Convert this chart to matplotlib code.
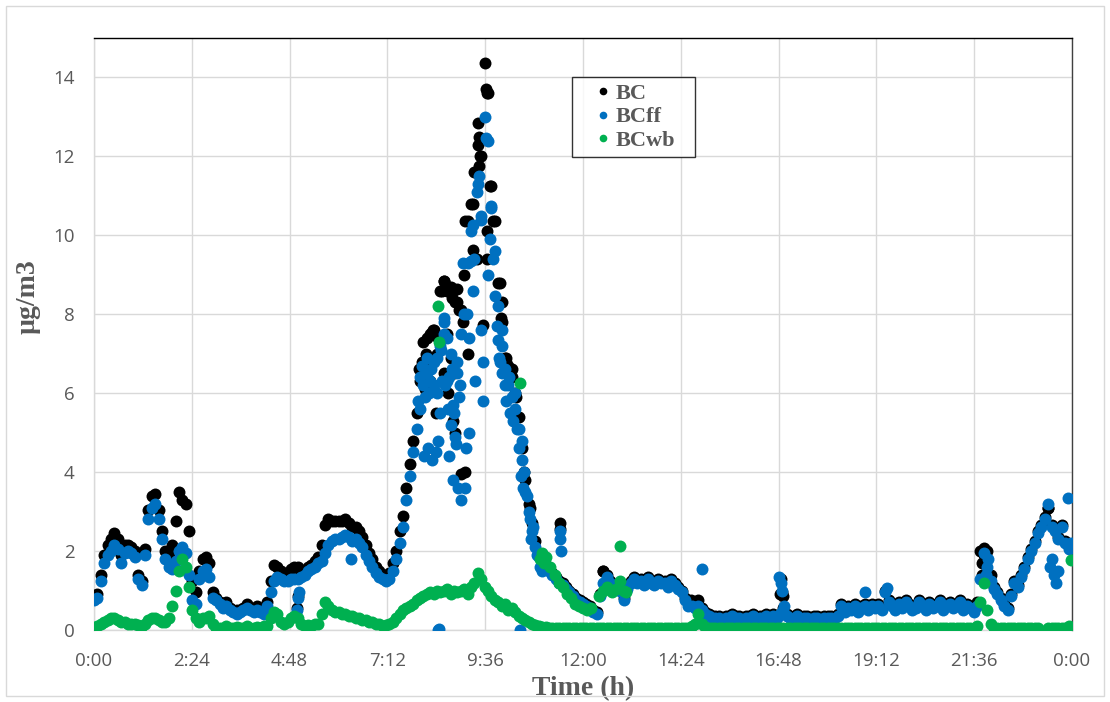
import numpy as np
import matplotlib
matplotlib.use('Agg')
import matplotlib.pyplot as plt
from matplotlib.lines import Line2D
from matplotlib.patches import Rectangle

# 5-minute samples, one row per hour (values in ug/m3)
bc = [
    0.8, 0.9, 1.4, 1.9, 2.15, 2.3, 2.45, 2.3, 1.9, 2.15, 2.15, 2.1,
    2.0, 1.4, 1.25, 2.05, 3.05, 3.4, 3.45, 3.05, 2.5, 2.0, 1.9, 2.15,
    2.75, 3.5, 3.3, 3.2, 2.5, 1.25, 0.95, 1.5, 1.8, 1.85, 1.7, 0.95,
    0.8, 0.7, 0.6, 0.7, 0.55, 0.5, 0.5, 0.5, 0.55, 0.65, 0.55, 0.5,
    0.6, 0.5, 0.5, 0.7, 1.25, 1.65, 1.6, 1.5, 1.4, 1.45, 1.55, 1.6,
    1.6, 1.5, 1.5, 1.6, 1.65, 1.75, 1.85, 2.15, 2.65, 2.8, 2.75, 2.75,
    2.75, 2.75, 2.8, 2.7, 2.6, 2.6, 2.5, 2.35, 2.15, 1.95, 1.8, 1.6,
    1.5, 1.4, 1.35, 1.45, 1.7, 2.0, 2.5, 2.9, 3.6, 4.2, 4.8, 5.5,
    6.3, 6.7, 7.4, 7.5, 7.6, 7.0, 8.6, 8.85, 7.5, 8.7, 6.5, 8.3,
    8.1, 9.0, 10.35, 10.8, 11.6, 12.85, 12.0, 14.37, 13.6, 11.25, 10.35, 8.8,
    7.8, 6.9, 6.7, 6.4, 6.0, 5.4, 4.6, 3.8, 3.2, 2.7, 2.25, 1.95,
    1.8, 1.65, 1.55, 1.45, 1.35, 1.25, 1.2, 1.1, 1.0, 0.9, 0.8, 0.75,
    0.7, 0.65, 0.6, 0.5, 0.45, 0.9, 1.5, 1.4, 1.25, 1.1, 1.15, 1.05,
    0.8, 1.1, 1.25, 1.35, 1.25, 1.3, 1.2, 1.35, 1.25, 1.2, 1.3, 1.25,
    1.25, 1.15, 1.3, 1.2, 1.1, 1.0, 0.8, 0.7, 0.7, 0.7, 0.75, 0.55,
    0.45, 0.4, 0.35, 0.35, 0.35, 0.3, 0.35, 0.35, 0.4, 0.35, 0.35, 0.3,
    0.35, 0.35, 0.4, 0.35, 0.35, 0.35, 0.4, 0.35, 0.4, 0.35, 0.9, 0.55,
    0.4, 0.35, 0.35, 0.4, 0.35, 0.35, 0.35, 0.3, 0.35, 0.35, 0.3, 0.35,
    0.35, 0.35, 0.33, 0.4, 0.65, 0.5, 0.6, 0.55, 0.65, 0.5, 0.6, 0.65,
    0.55, 0.65, 0.6, 0.65, 0.55, 1.0, 0.75, 0.65, 0.55, 0.7, 0.6, 0.75,
    0.65, 0.55, 0.6, 0.75, 0.65, 0.55, 0.7, 0.6, 0.65, 0.75, 0.55, 0.65,
    0.7, 0.6, 0.65, 0.75, 0.55, 0.65, 0.6, 0.5, 0.7, 2.0, 2.08, 2.0,
    1.4, 1.1, 0.95, 0.8, 0.65, 0.55, 0.9, 1.25, 1.15, 1.4, 1.6, 1.85,
    2.05, 2.25, 2.5, 2.65, 2.85, 3.1, 2.65, 2.55, 2.35, 2.65, 2.25, 2.1,
]
bcff = [
    0.75, 0.8, 1.25, 1.7, 1.9, 2.0, 2.15, 2.05, 1.7, 1.95, 2.0, 1.95,
    1.85, 1.3, 1.15, 1.9, 2.8, 3.1, 3.2, 2.8, 2.3, 1.8, 1.6, 1.55,
    1.75, 2.0, 2.1, 1.95, 1.4, 0.75, 0.65, 1.3, 1.5, 1.55, 1.35, 0.8,
    0.75, 0.65, 0.55, 0.6, 0.5, 0.45, 0.4, 0.45, 0.5, 0.55, 0.5, 0.45,
    0.5, 0.45, 0.4, 0.6, 0.95, 1.25, 1.35, 1.3, 1.25, 1.25, 1.3, 1.3,
    1.3, 1.35, 1.4, 1.5, 1.55, 1.6, 1.7, 1.75, 1.95, 2.15, 2.25, 2.3,
    2.3, 2.35, 2.4, 2.35, 2.25, 2.3, 2.2, 2.1, 1.9, 1.75, 1.6, 1.45,
    1.35, 1.3, 1.25, 1.3, 1.5, 1.8, 2.2, 2.6, 3.3, 3.9, 4.5, 5.1,
    5.6, 6.2, 6.5, 6.3, 6.8, 6.0, 7.2, 7.5, 6.3, 7.0, 5.5, 6.5,
    7.5, 8.0, 9.3, 10.1, 9.4, 11.3, 10.5, 13.0, 12.4, 10.7, 9.6, 8.2,
    7.2, 6.6, 6.2, 5.9, 5.6, 5.1, 4.3, 3.5, 3.0, 2.5, 2.1, 1.85,
    1.75, 1.6, 1.5, 1.4, 1.3, 1.2, 1.15, 1.05, 0.95, 0.85, 0.75, 0.7,
    0.65, 0.6, 0.55, 0.45, 0.4, 0.85, 1.2, 1.35, 1.2, 1.05, 1.1, 1.0,
    0.75, 1.05, 1.2, 1.3, 1.2, 1.25, 1.15, 1.3, 1.2, 1.15, 1.25, 1.2,
    1.2, 1.1, 1.25, 1.15, 1.05, 0.95, 0.75, 0.6, 0.6, 0.55, 0.6, 0.5,
    0.4, 0.35, 0.3, 0.3, 0.3, 0.25, 0.3, 0.3, 0.35, 0.3, 0.3, 0.25,
    0.3, 0.3, 0.35, 0.3, 0.3, 0.3, 0.35, 0.3, 0.35, 0.3, 0.4, 0.5,
    0.35, 0.3, 0.3, 0.35, 0.3, 0.3, 0.3, 0.25, 0.3, 0.3, 0.25, 0.3,
    0.3, 0.3, 0.28, 0.35, 0.6, 0.45, 0.55, 0.5, 0.6, 0.45, 0.55, 0.6,
    0.5, 0.6, 0.55, 0.6, 0.5, 0.95, 0.7, 0.6, 0.5, 0.65, 0.55, 0.7,
    0.6, 0.5, 0.55, 0.7, 0.6, 0.5, 0.65, 0.55, 0.6, 0.7, 0.5, 0.6,
    0.65, 0.55, 0.6, 0.7, 0.5, 0.6, 0.55, 0.45, 0.6, 1.3, 1.95, 1.6,
    1.25, 1.05, 0.9, 0.75, 0.6, 0.5, 0.85, 1.2, 1.1, 1.35, 1.55, 1.8,
    2.0, 2.2, 2.45, 2.6, 2.8, 3.2, 2.6, 2.5, 2.3, 2.6, 2.2, 2.05,
]
bcwb = [
    0.05, 0.1, 0.15, 0.2, 0.25, 0.3, 0.3, 0.25, 0.2, 0.2, 0.15, 0.15,
    0.15, 0.12, 0.1, 0.15, 0.25, 0.3, 0.3, 0.25, 0.2, 0.2, 0.3, 0.6,
    1.0, 1.5, 1.8, 1.6, 1.1, 0.5, 0.3, 0.2, 0.3, 0.3, 0.35, 0.15,
    0.05, 0.05, 0.05, 0.1, 0.05, 0.05, 0.08, 0.05, 0.05, 0.1, 0.05, 0.05,
    0.08, 0.05, 0.1, 0.1, 0.3, 0.45, 0.4, 0.2, 0.15, 0.2, 0.3, 0.35,
    0.3, 0.15, 0.1, 0.12, 0.1, 0.15, 0.15, 0.4, 0.7, 0.6, 0.5, 0.45,
    0.45, 0.4, 0.4, 0.35, 0.35, 0.3, 0.3, 0.25, 0.25, 0.2, 0.2, 0.15,
    0.15, 0.1, 0.12, 0.15, 0.2, 0.3, 0.4, 0.5, 0.55, 0.6, 0.65, 0.75,
    0.8, 0.85, 0.9, 0.95, 0.9, 1.0, 0.95, 1.0, 1.05, 0.9, 1.0, 0.95,
    1.0, 1.05, 0.9, 1.1, 1.2, 1.45, 1.3, 1.1, 1.0, 0.85, 0.75, 0.7,
    0.6, 0.65, 0.5, 0.55, 0.45, 0.35, 0.3, 0.25, 0.2, 0.15, 0.12, 0.1,
    0.08, 0.07, 0.06, 0.05, 0.05, 0.05, 0.04, 0.05, 0.05, 0.04, 0.05, 0.05,
    0.05, 0.04, 0.05, 0.05, 0.06, 0.05, 0.05, 0.04, 0.05, 0.05, 0.06, 0.05,
    0.05, 0.05, 0.04, 0.05, 0.05, 0.06, 0.05, 0.05, 0.04, 0.05, 0.05, 0.05,
    0.05, 0.04, 0.05, 0.05, 0.05, 0.06, 0.05, 0.05, 0.1, 0.15, 0.4, 0.15,
    0.08, 0.05, 0.05, 0.04, 0.05, 0.05, 0.05, 0.06, 0.05, 0.05, 0.04, 0.05,
    0.05, 0.05, 0.06, 0.05, 0.05, 0.04, 0.05, 0.05, 0.05, 0.06, 0.05, 0.05,
    0.05, 0.04, 0.05, 0.05, 0.05, 0.06, 0.05, 0.05, 0.04, 0.05, 0.05, 0.05,
    0.05, 0.05, 0.06, 0.05, 0.05, 0.05, 0.04, 0.05, 0.05, 0.05, 0.06, 0.05,
    0.05, 0.04, 0.05, 0.05, 0.05, 0.05, 0.06, 0.05, 0.05, 0.04, 0.05, 0.05,
    0.05, 0.05, 0.05, 0.06, 0.05, 0.05, 0.04, 0.05, 0.05, 0.05, 0.06, 0.05,
    0.05, 0.04, 0.05, 0.05, 0.05, 0.06, 0.05, 0.05, 0.1, 0.7, 1.2, 0.5,
    0.15, 0.05, 0.05, 0.06, 0.05, 0.05, 0.04, 0.05, 0.05, 0.05, 0.06, 0.05,
    0.05, 0.05, 0.04, np.nan, np.nan, 0.05, 0.06, 0.05, 0.05, 0.05, 0.06, 0.1,
]

# scattered readings (time in hours, value)
bc_extra_t = [4.98, 5.0, 8.05, 8.15, 8.25, 8.3, 8.4, 8.55, 8.6, 8.7, 8.8, 8.85,
              8.9, 8.95, 9.0, 9.1, 9.05, 9.1, 9.3, 9.3, 9.42, 9.45, 9.47, 9.45,
              9.55, 9.62, 9.65, 9.65, 9.65, 9.72, 9.8, 9.97, 9.98, 10.0, 10.1,
              10.2, 10.7, 8.85, 8.75, 8.6, 11.44, 11.44, 12.5, 14.65, 14.75,
              16.85, 16.88, 16.9, 21.78, 21.8, 21.85, 23.4,
              7.98, 8.08, 8.12, 8.2, 8.32, 8.38, 8.65, 8.68, 8.78, 8.82, 9.18,
              9.4, 10.12, 10.15, 10.25, 10.35, 10.55]
bc_extra_v = [0.55, 0.85, 6.8, 7.0, 6.3, 7.55, 7.45, 8.6, 8.85, 8.7, 8.6, 8.3,
              8.65, 8.1, 3.95, 4.0, 7.8, 10.35, 9.63, 10.8, 12.3, 12.5, 12.0, 11.75,
              7.73, 13.7, 13.6, 10.1, 9.4, 11.25, 10.35, 8.8, 7.9, 8.3, 6.8,
              6.6, 3.1, 5.0, 6.9, 6.5, 2.7, 2.55, 1.5, 0.75, 0.7,
              1.3, 0.95, 0.85, 1.4, 1.7, 1.9, 3.1,
              6.6, 7.3, 6.1, 6.8, 7.6, 5.5, 8.6, 6.0, 8.4, 5.3, 7.0,
              9.4, 6.9, 6.5, 6.6, 5.9, 4.0]
bcff_extra_t = [4.98, 5.0, 5.02, 6.3, 8.1, 8.2, 8.3, 8.45, 8.45, 8.47, 8.5, 8.55,
                8.6, 8.65, 8.7, 8.75, 8.8, 8.85, 8.9, 8.95, 9.0, 9.05, 9.1, 9.12,
                9.2, 9.25, 9.3, 9.3, 9.35, 9.4, 9.45, 9.5, 9.55, 9.55, 9.63, 9.68,
                9.72, 9.75, 9.8, 9.85, 9.9, 9.95, 10.0, 10.45, 10.5, 10.55,
                11.44, 11.44, 11.45, 14.92, 16.82, 16.85, 16.88, 16.92, 18.92,
                19.45, 21.9, 21.95, 23.45, 23.5, 23.55, 23.6, 23.65, 23.9, 23.97,
                7.95, 8.0, 8.05, 8.12, 8.18, 8.22, 8.28, 8.35, 8.38, 8.42, 8.52,
                8.58, 8.62, 8.68, 8.72, 8.78, 8.82, 8.88, 8.92, 8.98, 9.15, 9.2,
                9.5, 9.92, 9.97, 10.02, 10.08, 10.12, 10.18, 10.22, 10.28, 10.32,
                10.38, 10.42, 10.48, 10.53, 10.62, 10.7, 10.73, 10.78, 10.88,
                10.95, 11.0]
bcff_extra_v = [0.5, 0.8, 0.95, 1.8, 4.4, 4.6, 4.3, 4.8, 0.0, 0.02, 5.5, 6.3,
                7.8, 7.4, 6.4, 5.2, 3.8, 4.9, 6.8, 5.9, 3.3, 9.3, 3.6, 4.6,
                5.0, 9.35, 8.6, 10.25, 6.3, 11.1, 11.5, 10.4, 6.8, 5.8, 12.47, 9.0,
                9.9, 10.75, 9.4, 8.45, 7.7, 6.9, 7.6, 0.0, 4.8, 4.0,
                2.3, 2.5, 2.0, 1.55, 1.35, 1.2, 1.0, 0.6, 0.97,
                1.07, 1.4, 1.8, 1.6, 1.8, 1.4, 1.2, 1.5, 3.35, 2.2,
                5.8, 6.4, 6.7, 5.9, 6.9, 6.0, 6.6, 6.2, 4.5, 6.9, 7.1,
                7.9, 6.2, 5.6, 4.4, 6.6, 5.7, 4.7, 3.6, 6.2, 8.0, 7.4,
                7.6, 7.35, 6.8, 6.5, 6.2, 5.8, 6.4, 5.5, 5.3, 6.0,
                5.1, 4.6, 3.9, 3.6, 3.4, 2.8, 2.3, 2.6, 1.9,
                1.6, 1.5]
bcwb_extra_t = [8.45, 8.47, 10.45, 10.95, 11.0, 11.05, 11.1, 11.2, 11.3, 11.4,
                11.5, 11.6, 11.7, 11.8, 11.9, 12.0, 12.1, 12.2, 12.4, 12.5, 12.6,
                12.7, 12.8, 12.9, 12.9, 13.0, 13.05, 23.97]
bcwb_extra_v = [8.2, 7.3, 6.25, 1.8, 1.95, 1.7, 1.85, 1.6, 1.4, 1.2,
                1.1, 0.9, 0.8, 0.65, 0.6, 0.55, 0.5, 0.55, 0.85, 1.0, 1.1,
                0.95, 1.05, 1.25, 2.14, 1.0, 0.95, 1.77]

x_ticks = [0, 2.4, 4.8, 7.2, 9.6, 12, 14.4, 16.8, 19.2, 21.6, 24]
x_tick_labels = ['0:00', '2:24', '4:48', '7:12', '9:36', '12:00', '14:24',
                 '16:48', '19:12', '21:36', '0:00']
y_ticks = [0, 2, 4, 6, 8, 10, 12, 14]

series = [
    ('BC', bc, bc_extra_t, bc_extra_v, '#000000'),
    ('BCff', bcff, bcff_extra_t, bcff_extra_v, '#0070C0'),
    ('BCwb', bcwb, bcwb_extra_t, bcwb_extra_v, '#00B050'),
]

fig = plt.figure(figsize=(11.1, 7.02), dpi=100)
ax = fig.add_axes([0.0847, 0.1026, 0.8811, 0.8433])

t_base = np.arange(len(bc)) / 12.0
for name, vals, et, ev, color in series:
    t = np.concatenate([t_base, et])
    v = np.concatenate([np.array(vals, dtype=float), ev])
    ax.plot(t, v, 'o', color=color, markersize=8.6, markeredgewidth=0, zorder=3)

ax.set_xlim(0, 24)
ax.set_ylim(0, 15)
ax.set_xticks(x_ticks)
ax.set_xticklabels(x_tick_labels)
ax.set_yticks(y_ticks)
ax.tick_params(length=0, labelsize=13.5, colors='#595959')
ax.tick_params(axis='x', pad=16)
ax.tick_params(axis='y', pad=14)
for lbl in ax.get_xticklabels() + ax.get_yticklabels():
    lbl.set_fontfamily('Open Sans')
ax.grid(True, color='#d9d9d9', linewidth=1)
ax.set_axisbelow(True)

ax.spines['top'].set_color('#000000')
ax.spines['right'].set_color('#404040')
ax.spines['left'].set_color('#d9d9d9')
ax.spines['bottom'].set_color('#d9d9d9')
for sp in ax.spines.values():
    sp.set_linewidth(1)

label_font = dict(family='Liberation Serif', weight='bold', size=20, color='#595959')
ax.set_xlabel('Time (h)', labelpad=4, **label_font)
ax.set_ylabel('\u00b5g/m3', **label_font)
ax.yaxis.set_label_coords(-0.055, 0.5625)

handles = [Line2D([], [], marker='o', linestyle='none', color=c,
                  markersize=5.5, markeredgewidth=0) for _, _, _, _, c in series]
leg = ax.legend(handles, [s[0] for s in series], loc='upper left',
                bbox_to_anchor=(0.4888, 0.1, 0.1258, 0.834), mode='expand',
                borderaxespad=0, frameon=True, fancybox=False,
                handlelength=2.2, handletextpad=-0.55, labelspacing=0.12,
                borderpad=0.3,
                prop={'family': 'Liberation Serif', 'weight': 'bold', 'size': 16})
leg.get_frame().set_edgecolor('#000000')
leg.get_frame().set_linewidth(1)
for txt in leg.get_texts():
    txt.set_color('#595959')

# thin chart-area border like the spreadsheet export
fig.patches.append(Rectangle((0.005, 0.008), 0.99, 0.984, transform=fig.transFigure,
                             fill=False, edgecolor='#d9d9d9', linewidth=1))

fig.savefig('out.png', dpi=100, facecolor='white')
plt.close(fig)
